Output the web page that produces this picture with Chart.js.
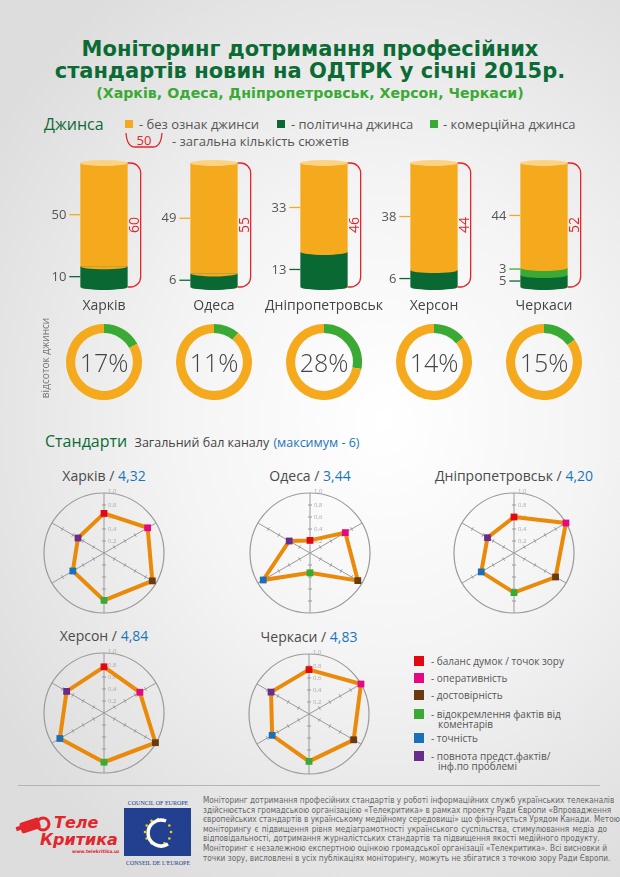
<!DOCTYPE html>
<html>
<head>
<meta charset="utf-8">
<script src="https://cdn.jsdelivr.net/npm/chart.js@4.4.1/dist/chart.umd.min.js"></script>
<style>
html, body { margin: 0; padding: 0; }
body {
    width: 620px; height: 877px; position: relative; overflow: hidden;
    font-family: "Open Sans", sans-serif; color: #555;
    background: radial-gradient(ellipse 75% 60% at 62% 48%, #ffffff 0%, #f4f4f4 45%, #dddddd 100%);
}
.abs { position: absolute; }
#title { top: 38px; left: 0; width: 620px; text-align: center; font: bold 21px/22px "DejaVu Sans", sans-serif; color: #0c6b35; }
#subtitle { top: 84px; left: 0; width: 620px; text-align: center; font: bold 14.2px/18px "DejaVu Sans", sans-serif; color: #3aaa35; }
.leg { font-size: 13px; line-height: 16px; color: #555; white-space: nowrap; }
.sq { width: 8px; height: 8px; }
.city { font-size: 14px; line-height: 18px; color: #444; text-align: center; width: 130px; }
.pct { width: 76px; height: 32px; line-height: 32px; text-align: center; font-size: 25px; font-weight: 300; color: #444; }
.rtitle { width: 200px; text-align: center; font-size: 14px; line-height: 18px; color: #4a4a4a; white-space: nowrap; }
.rtitle b { font-weight: normal; color: #1b75bb; }
.rl { font-size: 10px; line-height: 10px; color: #555; padding-left: 7px; text-indent: -7px; width: 150px; }
#foot { left: 203px; top: 796px; width: 404px; font: 8.2px/9.6px "Liberation Sans Narrow", "DejaVu Sans Condensed", sans-serif; color: #666; }
#foot div { text-align: justify; text-align-last: justify; white-space: nowrap; }
#foot div.end { text-align-last: left; }
</style>
</head>
<body>

<div id="title" class="abs">Моніторинг дотримання професійних<br>стандартів новин на ОДТРК у січні 2015р.</div>
<div id="subtitle" class="abs">(Харків, Одеса, Дніпропетровськ, Херсон, Черкаси)</div>

<div class="abs" style="left:44px;top:114px;font-size:16px;line-height:20px;color:#0c6b35;">Джинса</div>
<div class="abs sq" style="left:125px;top:120px;background:#f4aa1c;"></div>
<div class="abs leg" style="left:139px;top:116px;">- без ознак джинси</div>
<div class="abs sq" style="left:277px;top:120px;background:#0a6833;"></div>
<div class="abs leg" style="left:291px;top:116px;">- політична джинса</div>
<div class="abs sq" style="left:430px;top:120px;background:#3aaa35;"></div>
<div class="abs leg" style="left:443px;top:116px;">- комерційна джинса</div>
<svg class="abs" style="left:123px;top:132px;" width="42" height="18">
    <path d="M3 1 Q4 15 12 15 L30 15 Q38 15 39 1" fill="none" stroke="#e2262c" stroke-width="1.3"/>
    <text x="21" y="12.5" text-anchor="middle" font-family="Open Sans" font-size="13" fill="#e2262c">50</text>
</svg>
<div class="abs leg" style="left:172px;top:133px;">- загальна кількість сюжетів</div>

<canvas id="cyl" class="abs" style="left:49px;top:150px;" width="550" height="150"></canvas>
<div id="cities"></div>

<div class="abs" style="left:45px;top:358px;width:0;height:0;">
    <div style="position:absolute;left:-50px;top:-7px;width:100px;text-align:center;font-size:10px;line-height:14px;color:#777;transform:rotate(-90deg);">відсоток джинси</div>
</div>
<div id="donuts"></div>

<div class="abs" style="left:45px;top:430px;white-space:nowrap;line-height:22px;">
    <span style="font-size:16px;color:#0c6b35;">Стандарти</span>
    <span style="font-size:12.5px;color:#444;">&nbsp;Загальний бал каналу</span>
    <span style="font-size:12.5px;color:#1b75bb;">(максимум - 6)</span>
</div>
<div id="radars"></div>
<div id="rlegend"></div>

<div class="abs" style="left:18px;top:785px;width:582px;height:1px;background:#b5b5b5;"></div>

<svg class="abs" style="left:14px;top:808px;" width="105" height="50">
    <g fill="#e2262c">
        <rect x="6" y="12" width="20" height="11" rx="2" transform="rotate(-18 16 17)"/>
        <rect x="2" y="18" width="9" height="4" transform="rotate(-18 6 20)"/>
        <circle cx="29" cy="16" r="6" fill="none" stroke="#e2262c" stroke-width="3"/>
    </g>
    <text x="40" y="20" font-family="DejaVu Sans" font-weight="bold" font-style="italic" font-size="16" fill="#e2262c">Теле</text>
    <text x="26" y="37" font-family="DejaVu Sans" font-weight="bold" font-style="italic" font-size="16" fill="#e2262c">Критика</text>
    <text x="58" y="45" font-family="DejaVu Sans" font-weight="bold" font-size="4.5" fill="#e2262c">www.telekritika.ua</text>
</svg>

<svg class="abs" style="left:122px;top:797px;" width="72" height="72">
    <text x="36" y="8" text-anchor="middle" font-family="Liberation Serif" font-size="6" fill="#22408f">COUNCIL OF EUROPE</text>
    <rect x="2" y="11" width="67" height="48" fill="#22408f"/>
    <g fill="#f5d000" id="stars"></g>
    <path d="M44 24 A13 13 0 1 0 46 47" fill="none" stroke="#ffffff" stroke-width="3.5"/>
    <text x="36" y="68" text-anchor="middle" font-family="Liberation Serif" font-size="6" fill="#22408f">CONSEIL DE L'EUROPE</text>
</svg>

<div id="foot" class="abs">
    <div>Моніторинг дотримання професійних стандартів у роботі інформаційних служб українських телеканалів</div>
    <div>здійснюється громадською організацією «Телекритика» в рамках проекту Ради Європи «Впровадження</div>
    <div>європейських стандартів в українському медійному середовищі» що фінансується Урядом Канади. Метою</div>
    <div>моніторингу є підвищення рівня медіаграмотності українського суспільства, стимулювання медіа до</div>
    <div class="end">відповідальності, дотримання журналістських стандартів та підвищення якості медійного продукту.</div>
    <div>Моніторинг є незалежною експертною оцінкою громадської організації «Телекритика». Всі висновки й</div>
    <div>точки зору, висловлені в усіх публікаціях моніторингу, можуть не збігатися з точкою зору Ради Європи.</div>
</div>

<script>
// Джинса data (кількість сюжетів)
const cities = ['Харків', 'Одеса', 'Дніпропетровськ', 'Херсон', 'Черкаси'];
const noJeans = [50, 49, 33, 38, 44];
const political = [10, 6, 13, 6, 5];
const commercial = [0, 0, 0, 0, 3];
const totals = [60, 55, 46, 44, 52];
const jeansPct = [17, 11, 28, 14, 15];

// Стандарти data
const criteria = ['баланс думок / точок зору', 'оперативність', 'достовірність',
    'відокремлення фактів від коментарів', 'точність', 'повнота предст.фактів/інф.по проблемі'];
const scores = ['4,32', '3,44', '4,20', '4,84', '4,83'];
const kharkivR = [0.66, 0.84, 0.93, 0.79, 0.60, 0.50];
const odesaR = [0.21, 0.68, 0.92, 0.33, 0.90, 0.40];
const dniproR = [0.60, 1.00, 0.80, 0.66, 0.63, 0.51];
const khersonR = [0.77, 0.69, 0.99, 0.82, 0.85, 0.72];
const cherkasyR = [0.74, 1.00, 0.86, 0.79, 0.71, 0.73];

const ORANGE = '#f4aa1c', DARK = '#0a6833', LIGHT = '#3aaa35', RED = '#e2262c';
const pointColors = ['#e30613', '#e5097f', '#6b3a10', '#3aaa35', '#1a6fb8', '#6a2c8a'];
const cx = [104, 214, 324, 434, 544];

// stars of the CoE logo
(function () {
    const g = document.getElementById('stars');
    let s = '';
    for (let k = 0; k < 12; k++) {
        const a = k * Math.PI / 6;
        s += '<circle cx="' + (36 + 13 * Math.cos(a)).toFixed(1) + '" cy="' + (35 + 13 * Math.sin(a)).toFixed(1) + '" r="1.3"/>';
    }
    g.innerHTML = s;
})();

// cylinders
const share = arr => arr.map((v, i) => v / totals[i] * 100);

const cylinderDeco = {
    id: 'cylinderDeco',
    afterDatasetsDraw(chart) {
        const ctx = chart.ctx;
        const raws = [political, commercial, noJeans];
        const cols = [DARK, LIGHT, ORANGE];
        const metas = raws.map((r, d) => chart.getDatasetMeta(d));
        cities.forEach((c, i) => {
            const bars = metas.map(m => m.data[i]);
            const x = bars[0].x, rx = bars[0].width / 2, ry = 3;
            const left = x - rx, right = x + rx;
            const bottom = bars[0].base, top = bars[2].y;
            const order = [0, 1, 2].filter(d => raws[d][i] > 0);

            ctx.save();
            // bottom cap
            ctx.fillStyle = cols[order[0]];
            ctx.beginPath(); ctx.ellipse(x, bottom, rx, ry, 0, 0, Math.PI); ctx.fill();
            // curved boundaries between segments
            for (let k = 0; k < order.length - 1; k++) {
                ctx.fillStyle = cols[order[k + 1]];
                ctx.beginPath(); ctx.ellipse(x, bars[order[k]].y, rx, ry, 0, 0, Math.PI); ctx.fill();
            }
            // top cap
            ctx.fillStyle = '#fcd384';
            ctx.beginPath(); ctx.ellipse(x, top, rx, ry, 0, 0, Math.PI * 2); ctx.fill();

            // value labels on the left
            ctx.font = '13px "Open Sans"';
            ctx.textAlign = 'right';
            ctx.textBaseline = 'middle';
            let prevY = Infinity;
            order.forEach(d => {
                const b = bars[d];
                let y = Math.min((b.y + b.base) / 2, prevY - 12);
                prevY = y;
                ctx.strokeStyle = cols[d];
                ctx.lineWidth = 1.3;
                ctx.beginPath(); ctx.moveTo(left - 11, y); ctx.lineTo(left, y); ctx.stroke();
                ctx.fillStyle = '#555';
                ctx.fillText(raws[d][i], left - 14, y + 0.5);
            });

            // red bracket with the total
            const bx = right + 13, r = 10;
            ctx.strokeStyle = RED;
            ctx.lineWidth = 1.3;
            ctx.beginPath();
            ctx.moveTo(right, top);
            ctx.lineTo(bx - r, top);
            ctx.arcTo(bx, top, bx, top + r, r);
            ctx.lineTo(bx, bottom - r);
            ctx.arcTo(bx, bottom, bx - r, bottom, r);
            ctx.lineTo(right, bottom);
            ctx.stroke();
            ctx.translate(right + 7, (top + bottom) / 2);
            ctx.rotate(-Math.PI / 2);
            ctx.textAlign = 'center';
            ctx.fillStyle = RED;
            ctx.font = '14px "Open Sans"';
            ctx.fillText(totals[i], 0, 0);
            ctx.restore();
        });
    }
};

new Chart(document.getElementById('cyl'), {
    type: 'bar',
    data: {
        labels: cities,
        datasets: [
            { label: 'політична джинса', data: share(political), backgroundColor: DARK },
            { label: 'комерційна джинса', data: share(commercial), backgroundColor: LIGHT },
            { label: 'без ознак джинси', data: share(noJeans), backgroundColor: ORANGE }
        ]
    },
    options: {
        responsive: false,
        animation: false,
        layout: { padding: { top: 13, bottom: 13, left: 0, right: 0 } },
        datasets: { bar: { barPercentage: 1, categoryPercentage: 0.43, borderWidth: 0 } },
        scales: {
            x: { display: false, stacked: true },
            y: { display: false, stacked: true, min: 0, max: 100 }
        },
        plugins: { legend: { display: false }, tooltip: { enabled: false } }
    },
    plugins: [cylinderDeco]
});

// city names + donuts
let html = '', dhtml = '';
cities.forEach((c, i) => {
    html += '<div class="abs city" style="left:' + (cx[i] - 65) + 'px;top:296px;">' + c + '</div>';
    dhtml += '<canvas id="d' + i + '" class="abs" style="left:' + (cx[i] - 38) + 'px;top:324px;" width="76" height="76"></canvas>' +
        '<div class="abs pct" style="left:' + (cx[i] - 38) + 'px;top:346px;">' + jeansPct[i] + '%</div>';
});
document.getElementById('cities').innerHTML = html;
document.getElementById('donuts').innerHTML = dhtml;

jeansPct.forEach((p, i) => {
    new Chart(document.getElementById('d' + i), {
        type: 'doughnut',
        data: {
            labels: ['джинса', 'без ознак джинси'],
            datasets: [{ data: [p, 100 - p], backgroundColor: [LIGHT, ORANGE], borderWidth: 0 }]
        },
        options: {
            responsive: false,
            animation: false,
            cutout: '76%',
            plugins: { legend: { display: false }, tooltip: { enabled: false } }
        }
    });
});

// radars
const radarTicks = {
    id: 'radarTicks',
    beforeDatasetsDraw(chart) {
        const s = chart.scales.r, ctx = chart.ctx;
        ctx.save();
        ctx.strokeStyle = '#9a9a9a';
        ctx.lineWidth = 1;
        for (let a = 0; a < criteria.length; a++) {
            const ang = s.getIndexAngle(a) - Math.PI / 2;
            const px = -Math.sin(ang), py = Math.cos(ang);
            s.ticks.forEach(t => {
                if (t.value <= 0 || t.value >= 0.99) return;
                const p = s.getPointPositionForValue(a, t.value);
                ctx.beginPath();
                ctx.moveTo(p.x - px * 2, p.y - py * 2);
                ctx.lineTo(p.x + px * 2, p.y + py * 2);
                ctx.stroke();
            });
        }
        ctx.fillStyle = '#aaaaaa';
        ctx.font = '6px "Open Sans"';
        ctx.textAlign = 'left';
        ctx.textBaseline = 'middle';
        s.ticks.forEach(t => {
            if (t.value <= 0) return;
            const p = s.getPointPositionForValue(0, t.value);
            ctx.fillText(t.value.toFixed(1).replace('.', ','), p.x + 4, p.y - (t.value >= 0.99 ? 2 : 0));
        });
        ctx.restore();
    }
};

const radarSets = [kharkivR, odesaR, dniproR, khersonR, cherkasyR];
const radarPos = [[104, 553], [310, 553], [514, 553], [104, 713], [309, 714]];
let rhtml = '';
radarSets.forEach((v, i) => {
    const [x, y] = radarPos[i];
    rhtml += '<div class="abs rtitle" style="left:' + (x - 100) + 'px;top:' + (y - 86) + 'px;">' + cities[i] + ' / <b>' + scores[i] + '</b></div>' +
        '<canvas id="r' + i + '" class="abs" style="left:' + (x - 70) + 'px;top:' + (y - 70) + 'px;" width="140" height="140"></canvas>';
});
document.getElementById('radars').innerHTML = rhtml;

radarSets.forEach((v, i) => {
    new Chart(document.getElementById('r' + i), {
        type: 'radar',
        data: {
            labels: criteria,
            datasets: [{
                data: v,
                borderColor: '#ea8a0b',
                borderWidth: 4,
                fill: false,
                pointStyle: 'rect',
                pointRadius: 4.8,
                pointBackgroundColor: pointColors,
                pointBorderColor: pointColors,
                pointBorderWidth: 0
            }]
        },
        options: {
            responsive: false,
            animation: false,
            layout: { padding: 10 },
            plugins: { legend: { display: false }, tooltip: { enabled: false } },
            scales: {
                r: {
                    min: 0, max: 1,
                    ticks: { display: false, stepSize: 0.2 },
                    pointLabels: { display: false },
                    grid: { circular: true, lineWidth: 1.2, color: c => (c.tick && c.tick.value > 0.99) ? '#9a9a9a' : 'rgba(0,0,0,0)' },
                    angleLines: { color: '#9a9a9a', lineWidth: 1 }
                }
            }
        },
        plugins: [radarTicks]
    });
});

// radar legend
const legY = [661, 678, 695, 714, 738, 756];
let lhtml = '';
criteria.forEach((c, i) => {
    lhtml += '<div class="abs" style="left:414px;top:' + (legY[i] - 5) + 'px;width:10px;height:10px;background:' + pointColors[i] + ';"></div>' +
        '<div class="abs rl" style="left:431px;top:' + (legY[i] - 5) + 'px;">- ' + c.replace('фактів від ', 'фактів від<br>').replace('/інф', '/<br>інф') + '</div>';
});
document.getElementById('rlegend').innerHTML = lhtml;
</script>
</body>
</html>
